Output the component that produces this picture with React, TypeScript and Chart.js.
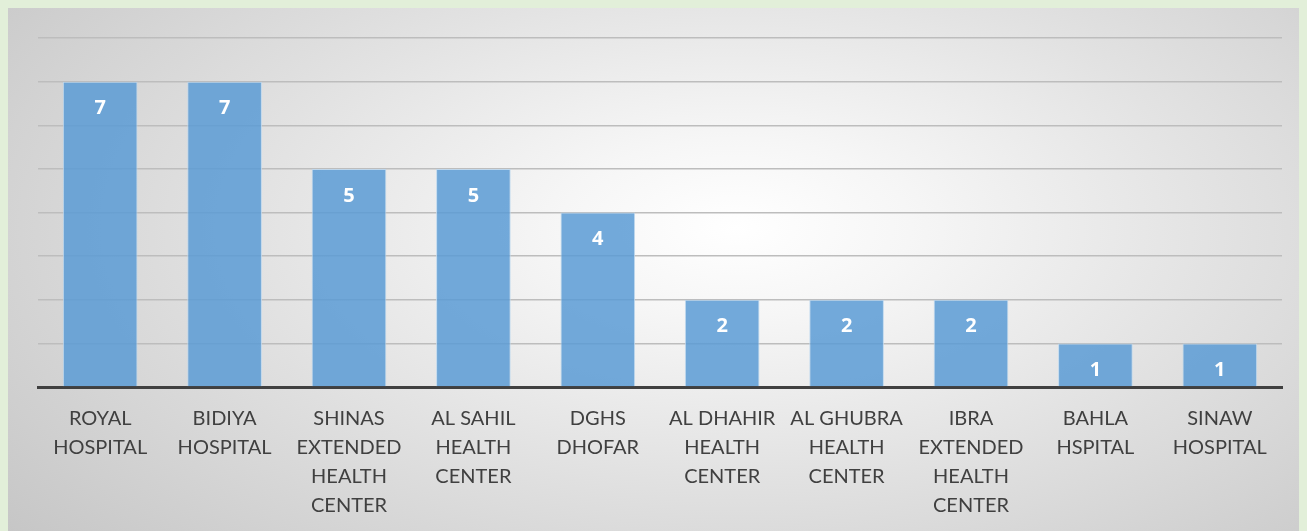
import React, { useEffect, useRef } from "react";
import { Chart, registerables } from "chart.js";

Chart.register(...registerables);

const categories: string[][] = [
  ["ROYAL", "HOSPITAL"],
  ["BIDIYA", "HOSPITAL"],
  ["SHINAS", "EXTENDED", "HEALTH", "CENTER"],
  ["AL SAHIL", "HEALTH", "CENTER"],
  ["DGHS", "DHOFAR"],
  ["AL DHAHIR", "HEALTH", "CENTER"],
  ["AL GHUBRA", "HEALTH", "CENTER"],
  ["IBRA", "EXTENDED", "HEALTH", "CENTER"],
  ["BAHLA", "HSPITAL"],
  ["SINAW", "HOSPITAL"],
];
const values: number[] = [7, 7, 5, 5, 4, 2, 2, 2, 1, 1];
const yMax = 8;

const valueLabels = {
  id: "valueLabels",
  afterDatasetsDraw(chart: any) {
    const ctx = chart.ctx;
    const meta = chart.getDatasetMeta(0);
    ctx.save();
    ctx.fillStyle = "#ffffff";
    ctx.font = "bold 20px 'Open Sans'";
    ctx.textAlign = "center";
    ctx.textBaseline = "middle";
    meta.data.forEach((bar: any, i: number) => {
      ctx.fillText(String(values[i]), bar.x, bar.y + 27);
    });
    ctx.restore();
  },
};

export default function App() {
  const ref = useRef<HTMLCanvasElement>(null);
  useEffect(() => {
    document.body.style.backgroundColor = "#e2efd9";
    document.documentElement.style.overflow = "hidden";
    const chart = new Chart(ref.current!, {
      type: "bar",
      data: {
        labels: categories,
        datasets: [
          {
            data: values,
            backgroundColor: "rgba(91,155,213,0.85)",
            borderColor: "rgba(189,215,238,0.9)",
            borderWidth: 1,
            categoryPercentage: 1,
            barPercentage: 0.6,
          },
        ],
      },
      options: {
        animation: false,
        responsive: false,
        maintainAspectRatio: false,
        layout: { padding: { left: 30, right: 25, top: 30, bottom: 0 } },
        plugins: { legend: { display: false }, tooltip: { enabled: false } },
        scales: {
          x: {
            grid: { display: false, drawTicks: false },
            border: { display: true, color: "#404040", width: 3 },
            ticks: {
              color: "#404040",
              font: { family: "Lato", size: 20, lineHeight: 29 / 20 },
              padding: 17,
              maxRotation: 0,
              autoSkip: false,
            },
            afterFit: (s: any) => {
              s.height = 144;
            },
          },
          y: {
            min: 0,
            max: yMax,
            ticks: { display: false, stepSize: 1 },
            grid: { color: "#bdbdbd", lineWidth: 1.5, drawTicks: false },
            border: { display: false },
            afterFit: (s: any) => {
              s.width = 0;
            },
          },
        },
      },
      plugins: [valueLabels],
    });
    return () => chart.destroy();
  }, []);
  return (
    <div
      style={{
        width: 1299,
        height: 523,
        background:
          "radial-gradient(ellipse 75% 95% at 56% 42%, #ffffff 0%, #f6f6f6 18%, #e2e2e2 50%, #c4c4c4 100%)",
      }}
    >
      <canvas ref={ref} width={1299} height={523} style={{ display: "block" }} />
    </div>
  );
}
